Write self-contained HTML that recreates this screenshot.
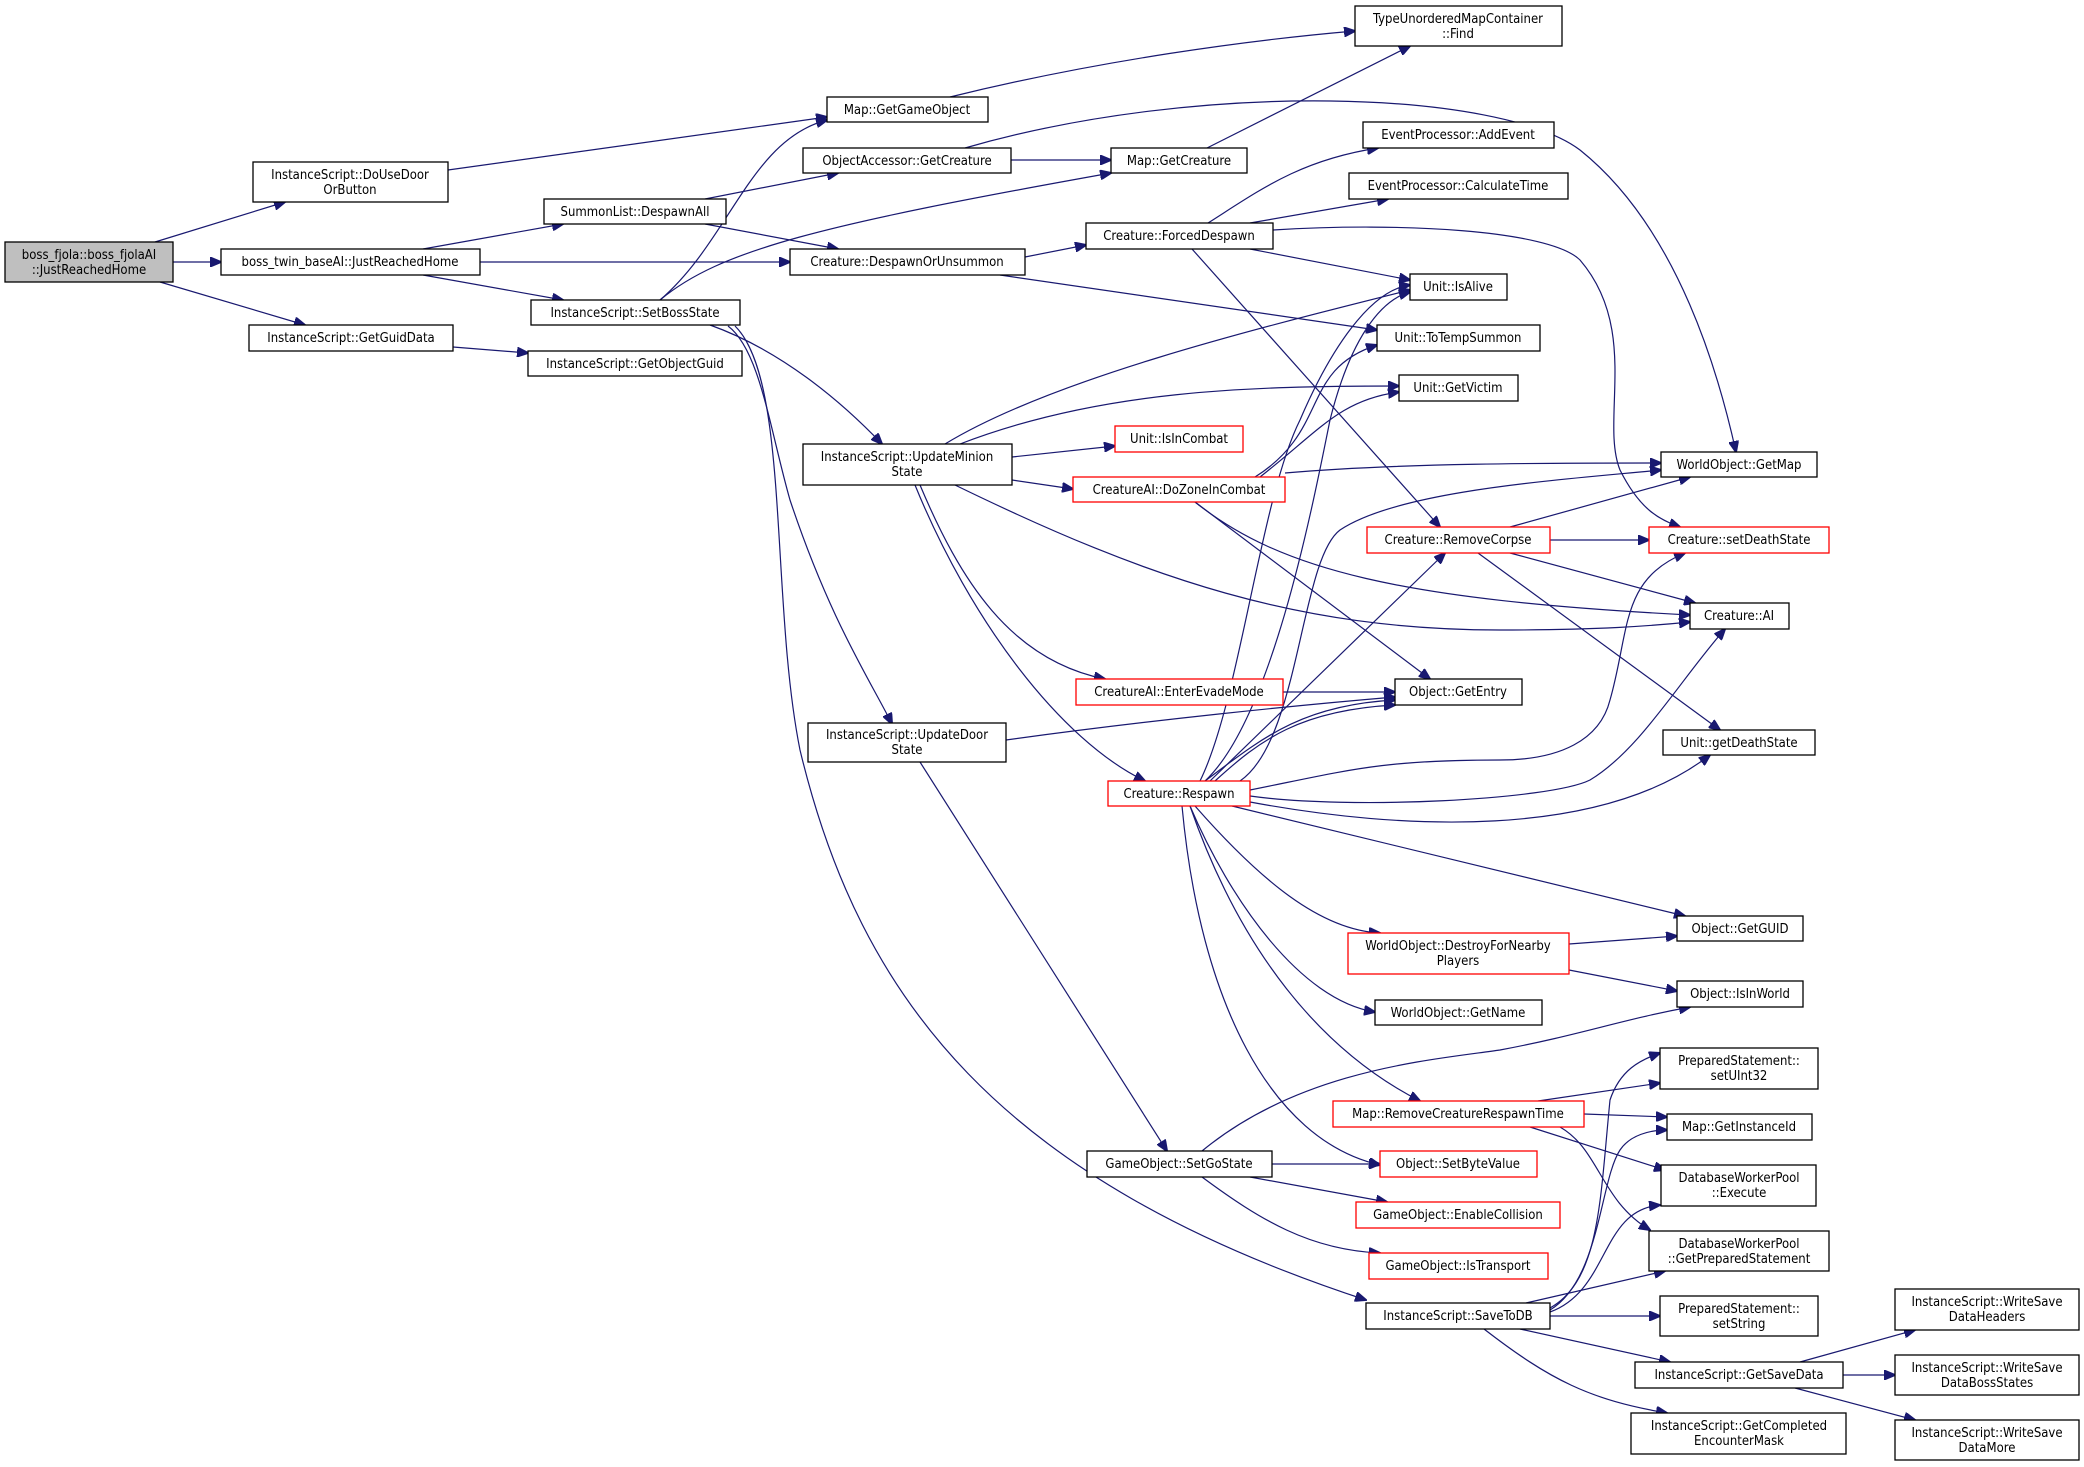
<!DOCTYPE html>
<html><head><meta charset="utf-8"><style>
body{margin:0;background:#fff;}
svg{display:block}
text{font-family:"DejaVu Sans Condensed","DejaVu Sans","Liberation Sans",sans-serif;font-size:13px;fill:#000;text-anchor:middle}
.n{fill:#fff;stroke:#000;stroke-width:1.3}
.r{fill:#fff;stroke:#f00;stroke-width:1.3}
.g{fill:#bfbfbf;stroke:#000;stroke-width:1.3}
path{fill:none;stroke:#191970;stroke-width:1.2}
</style></head><body>
<svg width="2084" height="1467" viewBox="0 0 2084 1467" xmlns="http://www.w3.org/2000/svg">
<defs><marker id="a" markerWidth="12" markerHeight="10" refX="11" refY="5" orient="auto" markerUnits="userSpaceOnUse"><path d="M0,0 L12,5 L0,10 z" style="fill:#191970;stroke:#191970"/></marker></defs>
<g marker-end="url(#a)">
<path d="M155,242 L285,202"/>
<path d="M173,262 L221,262"/>
<path d="M160,282 L305,325"/>
<path d="M448,170 L827,117"/>
<path d="M423,249 L563,224"/>
<path d="M480,262 L790,262"/>
<path d="M423,275 L563,300"/>
<path d="M453,347 L528,353"/>
<path d="M705,199 L838,173"/>
<path d="M705,224 L838,249"/>
<path d="M660,300 C730,240 750,140 827,120"/>
<path d="M660,300 C720,250 820,225 1111,173"/>
<path d="M710,325 C780,350 840,400 882,444"/>
<path d="M728,326 C760,350 770,430 790,500 C830,620 870,680 892,724"/>
<path d="M735,326 C790,380 770,600 800,750 C860,1000 1000,1180 1366,1300"/>
<path d="M1011,160 L1111,160"/>
<path d="M965,148 C1200,80 1500,90 1580,150 C1680,230 1720,380 1736,452"/>
<path d="M950,97 C1100,60 1250,40 1355,31"/>
<path d="M1207,148 L1410,46"/>
<path d="M1025,257 L1086,245"/>
<path d="M1000,275 L1377,330"/>
<path d="M1208,223 C1260,190 1300,160 1378,148"/>
<path d="M1250,223 L1388,199"/>
<path d="M1273,230 C1400,222 1550,230 1580,260 C1640,330 1600,420 1620,470 C1640,510 1660,520 1680,527"/>
<path d="M1250,249 L1410,280"/>
<path d="M1192,249 L1440,527"/>
<path d="M945,444 C1050,380 1250,330 1410,290"/>
<path d="M960,444 C1100,390 1250,386 1399,386"/>
<path d="M1012,457 L1115,446"/>
<path d="M1012,480 L1073,489"/>
<path d="M955,485 C1150,580 1300,630 1500,630 C1600,630 1650,626 1690,622"/>
<path d="M920,485 C960,580 1010,660 1105,679"/>
<path d="M915,485 C970,620 1060,740 1145,781"/>
<path d="M1255,477 C1330,430 1300,370 1377,345"/>
<path d="M1260,477 C1320,430 1340,400 1399,392"/>
<path d="M1285,473 C1400,463 1550,463 1661,463"/>
<path d="M1195,502 C1280,570 1400,600 1690,615"/>
<path d="M1195,502 L1430,679"/>
<path d="M1283,692 L1395,692"/>
<path d="M1006,740 C1150,720 1300,705 1395,697"/>
<path d="M920,762 L1167,1151"/>
<path d="M1510,527 L1690,477"/>
<path d="M1550,540 L1649,540"/>
<path d="M1510,553 L1695,603"/>
<path d="M1478,553 L1720,730"/>
<path d="M1200,781 C1240,700 1260,500 1300,420 C1330,350 1370,290 1410,285"/>
<path d="M1205,781 C1270,720 1310,520 1330,420 C1350,340 1380,300 1410,292"/>
<path d="M1240,781 C1300,740 1300,560 1340,530 C1400,490 1560,480 1661,470"/>
<path d="M1210,781 L1445,553"/>
<path d="M1250,790 C1350,770 1380,760 1500,760 C1560,760 1600,740 1610,700 C1630,630 1620,580 1685,553"/>
<path d="M1250,796 C1350,810 1550,800 1590,780 C1640,750 1680,680 1725,629"/>
<path d="M1205,781 C1260,740 1300,705 1395,700"/>
<path d="M1215,781 C1260,740 1300,710 1395,705"/>
<path d="M1250,802 C1400,830 1600,840 1710,755"/>
<path d="M1232,806 L1685,916"/>
<path d="M1195,806 C1260,880 1320,930 1380,933"/>
<path d="M1190,806 C1230,900 1300,1000 1375,1012"/>
<path d="M1190,806 C1240,950 1320,1050 1420,1101"/>
<path d="M1182,806 C1200,1000 1270,1140 1380,1165"/>
<path d="M1569,944 L1677,936"/>
<path d="M1569,970 L1677,991"/>
<path d="M1202,1151 C1300,1070 1430,1060 1500,1050 C1580,1035 1620,1020 1690,1007"/>
<path d="M1272,1164 L1380,1164"/>
<path d="M1250,1177 L1387,1202"/>
<path d="M1202,1177 C1260,1220 1310,1250 1380,1253"/>
<path d="M1538,1101 L1660,1083"/>
<path d="M1584,1114 L1667,1117"/>
<path d="M1530,1127 L1665,1170"/>
<path d="M1560,1127 C1600,1150 1600,1200 1650,1230"/>
<path d="M1550,1308 C1600,1280 1600,1200 1610,1100 C1620,1070 1640,1060 1660,1053"/>
<path d="M1550,1310 C1600,1280 1600,1180 1620,1150 C1630,1135 1650,1130 1667,1130"/>
<path d="M1550,1312 C1610,1290 1600,1210 1660,1205"/>
<path d="M1526,1303 L1665,1271"/>
<path d="M1550,1316 L1660,1316"/>
<path d="M1520,1329 L1670,1362"/>
<path d="M1484,1329 C1550,1380 1590,1400 1667,1413"/>
<path d="M1800,1362 L1915,1330"/>
<path d="M1843,1375 L1895,1375"/>
<path d="M1795,1388 L1915,1420"/>
</g>
<g>
<rect class="g" x="5" y="242" width="168" height="40"/><text x="89" y="259">boss_fjola::boss_fjolaAI</text><text x="89" y="274">::JustReachedHome</text>
<rect class="n" x="253" y="162" width="195" height="40"/><text x="350" y="179">InstanceScript::DoUseDoor</text><text x="350" y="194">OrButton</text>
<rect class="n" x="221" y="249" width="259" height="26"/><text x="350" y="266">boss_twin_baseAI::JustReachedHome</text>
<rect class="n" x="249" y="325" width="204" height="26"/><text x="351" y="342">InstanceScript::GetGuidData</text>
<rect class="n" x="544" y="199" width="182" height="25"/><text x="635" y="216">SummonList::DespawnAll</text>
<rect class="n" x="531" y="300" width="209" height="25"/><text x="635" y="317">InstanceScript::SetBossState</text>
<rect class="n" x="528" y="351" width="214" height="25"/><text x="635" y="368">InstanceScript::GetObjectGuid</text>
<rect class="n" x="827" y="97" width="161" height="25"/><text x="907" y="114">Map::GetGameObject</text>
<rect class="n" x="803" y="148" width="208" height="25"/><text x="907" y="165">ObjectAccessor::GetCreature</text>
<rect class="n" x="790" y="249" width="235" height="26"/><text x="907" y="266">Creature::DespawnOrUnsummon</text>
<rect class="n" x="803" y="444" width="209" height="41"/><text x="907" y="461">InstanceScript::UpdateMinion</text><text x="907" y="476">State</text>
<rect class="n" x="808" y="723" width="198" height="39"/><text x="907" y="739">InstanceScript::UpdateDoor</text><text x="907" y="754">State</text>
<rect class="n" x="1355" y="6" width="207" height="40"/><text x="1458" y="23">TypeUnorderedMapContainer</text><text x="1458" y="38">::Find</text>
<rect class="n" x="1363" y="122" width="191" height="26"/><text x="1458" y="139">EventProcessor::AddEvent</text>
<rect class="n" x="1349" y="173" width="219" height="26"/><text x="1458" y="190">EventProcessor::CalculateTime</text>
<rect class="n" x="1111" y="148" width="136" height="25"/><text x="1179" y="165">Map::GetCreature</text>
<rect class="n" x="1086" y="223" width="187" height="26"/><text x="1179" y="240">Creature::ForcedDespawn</text>
<rect class="n" x="1410" y="274" width="97" height="26"/><text x="1458" y="291">Unit::IsAlive</text>
<rect class="n" x="1377" y="325" width="163" height="26"/><text x="1458" y="342">Unit::ToTempSummon</text>
<rect class="n" x="1399" y="375" width="119" height="26"/><text x="1458" y="392">Unit::GetVictim</text>
<rect class="r" x="1115" y="426" width="128" height="26"/><text x="1179" y="443">Unit::IsInCombat</text>
<rect class="r" x="1073" y="477" width="212" height="25"/><text x="1179" y="494">CreatureAI::DoZoneInCombat</text>
<rect class="n" x="1661" y="452" width="156" height="25"/><text x="1739" y="469">WorldObject::GetMap</text>
<rect class="r" x="1367" y="527" width="183" height="26"/><text x="1458" y="544">Creature::RemoveCorpse</text>
<rect class="r" x="1649" y="527" width="180" height="26"/><text x="1739" y="544">Creature::setDeathState</text>
<rect class="n" x="1690" y="603" width="99" height="26"/><text x="1739" y="620">Creature::AI</text>
<rect class="r" x="1076" y="679" width="207" height="26"/><text x="1179" y="696">CreatureAI::EnterEvadeMode</text>
<rect class="n" x="1395" y="679" width="127" height="26"/><text x="1458" y="696">Object::GetEntry</text>
<rect class="n" x="1663" y="730" width="152" height="25"/><text x="1739" y="747">Unit::getDeathState</text>
<rect class="r" x="1108" y="781" width="142" height="25"/><text x="1179" y="798">Creature::Respawn</text>
<rect class="n" x="1677" y="916" width="126" height="25"/><text x="1740" y="933">Object::GetGUID</text>
<rect class="r" x="1348" y="933" width="221" height="41"/><text x="1458" y="950">WorldObject::DestroyForNearby</text><text x="1458" y="965">Players</text>
<rect class="n" x="1677" y="981" width="126" height="26"/><text x="1740" y="998">Object::IsInWorld</text>
<rect class="n" x="1375" y="1000" width="167" height="25"/><text x="1458" y="1017">WorldObject::GetName</text>
<rect class="n" x="1660" y="1048" width="158" height="41"/><text x="1739" y="1065">PreparedStatement::</text><text x="1739" y="1080">setUInt32</text>
<rect class="r" x="1333" y="1101" width="251" height="26"/><text x="1458" y="1118">Map::RemoveCreatureRespawnTime</text>
<rect class="n" x="1667" y="1114" width="145" height="26"/><text x="1739" y="1131">Map::GetInstanceId</text>
<rect class="n" x="1087" y="1151" width="185" height="26"/><text x="1179" y="1168">GameObject::SetGoState</text>
<rect class="r" x="1380" y="1151" width="157" height="26"/><text x="1458" y="1168">Object::SetByteValue</text>
<rect class="n" x="1661" y="1165" width="155" height="41"/><text x="1739" y="1182">DatabaseWorkerPool</text><text x="1739" y="1197">::Execute</text>
<rect class="r" x="1356" y="1202" width="204" height="26"/><text x="1458" y="1219">GameObject::EnableCollision</text>
<rect class="n" x="1649" y="1231" width="180" height="40"/><text x="1739" y="1248">DatabaseWorkerPool</text><text x="1739" y="1263">::GetPreparedStatement</text>
<rect class="r" x="1369" y="1253" width="179" height="26"/><text x="1458" y="1270">GameObject::IsTransport</text>
<rect class="n" x="1366" y="1303" width="184" height="26"/><text x="1458" y="1320">InstanceScript::SaveToDB</text>
<rect class="n" x="1660" y="1296" width="158" height="40"/><text x="1739" y="1313">PreparedStatement::</text><text x="1739" y="1328">setString</text>
<rect class="n" x="1895" y="1289" width="184" height="41"/><text x="1987" y="1306">InstanceScript::WriteSave</text><text x="1987" y="1321">DataHeaders</text>
<rect class="n" x="1635" y="1362" width="208" height="26"/><text x="1739" y="1379">InstanceScript::GetSaveData</text>
<rect class="n" x="1895" y="1355" width="184" height="40"/><text x="1987" y="1372">InstanceScript::WriteSave</text><text x="1987" y="1387">DataBossStates</text>
<rect class="n" x="1631" y="1413" width="215" height="41"/><text x="1739" y="1430">InstanceScript::GetCompleted</text><text x="1739" y="1445">EncounterMask</text>
<rect class="n" x="1895" y="1420" width="184" height="40"/><text x="1987" y="1437">InstanceScript::WriteSave</text><text x="1987" y="1452">DataMore</text>
</g>
</svg>
</body></html>
